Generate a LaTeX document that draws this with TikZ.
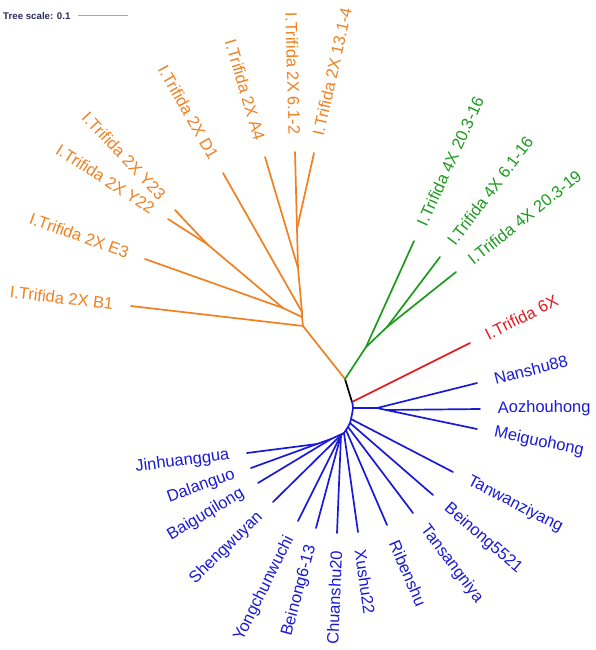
\documentclass[tikz,border=0pt]{standalone}
\usepackage{fontspec}
\setmainfont{Liberation Sans}
\definecolor{dipc}{HTML}{F08020}
\definecolor{tetc}{HTML}{1E9A1E}
\definecolor{hexc}{HTML}{E8191E}
\definecolor{batc}{HTML}{1A1AD6}
\definecolor{scalec}{HTML}{2C2C5E}

\begin{document}
\begin{tikzpicture}[
 x=1pt,y=-1pt,
 branch/.style={line width=1.7pt,line cap=round,line join=round},
 diploid/.style={branch,dipc},
 tetra/.style={branch,tetc},
 hexa/.style={branch,hexc},
 sweet/.style={branch,batc},
 lab/.style={font=\fontsize{16.5}{18}\selectfont,inner xsep=17pt,inner ysep=0pt,pos=1,sloped},
 leafR/.style={lab,anchor=west},
 leafL/.style={lab,anchor=east}]
\useasboundingbox (0,0) rectangle (596,650);
% scale bar
\node[anchor=west,inner sep=0pt,text=scalec,font=\bfseries\fontsize{9.7}{11}\selectfont] (scale) at (3,16) {Tree scale: 0.1};
\coordinate (sbl) at (78,16);
\coordinate (sbr) at (128,16);
\draw[line width=1pt,black!35] (sbl) -- (sbr);
% centre
\coordinate (root) at (345,379);
\coordinate (split) at (352,402);
\draw[branch,black] (root) -- (split);
% 2X clade
\coordinate (oa) at (303,326);
\coordinate (ob) at (302,317);
\coordinate (oc) at (283,308);
\coordinate (oy) at (207,244);
\coordinate (od) at (302,312);
\coordinate (oe) at (298,268);
\coordinate (of) at (297,229);
\coordinate (b1) at (131,306);
\coordinate (e3) at (145,259);
\coordinate (y22) at (168,219);
\coordinate (y23) at (175,210);
\coordinate (d1) at (223,173);
\coordinate (a4) at (265,157);
\coordinate (s612) at (295,152);
\coordinate (s1314) at (314,153);
\draw[diploid] (root) -- (oa) -- (ob) -- (od) -- (oe) -- (of);
\draw[diploid] (ob) -- (oc) -- (oy);
\draw[diploid] (oa) -- (b1) node[leafL] (tb1) {I.Trifida 2X B1};
\draw[diploid] (oc) -- (e3) node[leafL] (te3) {I.Trifida 2X E3};
\draw[diploid] (oy) -- (y22) node[leafL] (ty22) {I.Trifida 2X Y22};
\draw[diploid] (oy) -- (y23) node[leafL] (ty23) {I.Trifida 2X Y23};
\draw[diploid] (od) -- (d1) node[leafL] (td1) {I.Trifida 2X D1};
\draw[diploid] (oe) -- (a4) node[leafL] (ta4) {I.Trifida 2X A4};
\draw[diploid] (of) -- (s612) node[leafL] (ts612) {I.Trifida 2X 6.1-2};
\draw[diploid] (of) -- (s1314) node[leafR] (ts1314) {I.Trifida 2X 13.1-4};
% 4X clade
\coordinate (ga) at (366,347);
\coordinate (gb) at (387,327);
\coordinate (g16) at (414,241);
\coordinate (g616) at (440,257);
\coordinate (g19) at (456,272);
\draw[tetra] (root) -- (ga) -- (gb);
\draw[tetra] (ga) -- (g16) node[leafR] (tg16) {I.Trifida 4X 20.3-16};
\draw[tetra] (gb) -- (g616) node[leafR] (tg616) {I.Trifida 4X 6.1-16};
\draw[tetra] (gb) -- (g19) node[leafR] (tg19) {I.Trifida 4X 20.3-19};
% 6X
\coordinate (h6) at (470,343);
\draw[hexa] (split) -- (h6) node[leafR] (th6) {I.Trifida 6X};
% cultivars
\coordinate (bz) at (353,408);
\coordinate (bt) at (351,419);
\coordinate (bn) at (350,423);
\coordinate (bs) at (348,427);
\coordinate (br) at (346,430);
\coordinate (bx) at (344,433);
\coordinate (bp) at (341,435);
\draw[sweet] plot[smooth,tension=0.6] coordinates {(split) (bz) (bt) (bn) (bs) (br) (bx) (bp)};
\coordinate (n1) at (377,408);
\coordinate (n2) at (386,410);
\coordinate (p1) at (331,439);
\coordinate (jd) at (317,444);
\coordinate (nanshu) at (477,383);
\coordinate (aozhou) at (480,409);
\coordinate (meiguo) at (477,429);
\coordinate (tanwan) at (453,472);
\coordinate (bn5521) at (433,495);
\coordinate (tansang) at (413,513);
\coordinate (riben) at (387,525);
\coordinate (xushu) at (358,532);
\coordinate (chuan) at (337,533);
\coordinate (bn613) at (316,528);
\coordinate (yongchun) at (298,521);
\coordinate (shengwu) at (273,502);
\coordinate (baigu) at (258,483);
\coordinate (jinhuang) at (247,453);
\coordinate (dalan) at (251,468);
\draw[sweet] (bz) -- (n1) -- (n2);
\draw[sweet] (n1) -- (nanshu) node[leafR] (tnanshu) {Nanshu88};
\draw[sweet] (n2) -- (aozhou) node[leafR] (taozhou) {Aozhouhong};
\draw[sweet] (n2) -- (meiguo) node[leafR] (tmeiguo) {Meiguohong};
\draw[sweet] (bt) -- (tanwan) node[leafR] (ttanwan) {Tanwanziyang};
\draw[sweet] (bn) -- (bn5521) node[leafR] (tbn5521) {Beinong5521};
\draw[sweet] (bs) -- (tansang) node[leafR] (ttansang) {Tansangniya};
\draw[sweet] (br) -- (riben) node[leafR] (triben) {Ribenshu};
\draw[sweet] (bx) -- (xushu) node[leafR] (txushu) {Xushu22};
\draw[sweet] (bp) -- (chuan) node[leafL] (tchuan) {Chuanshu20};
\draw[sweet] (bp) -- (bn613) node[leafL] (tbn613) {Beinong6-13};
\draw[sweet] (bp) -- (yongchun) node[leafL] (tyongchun) {Yongchunwuchi};
\draw[sweet] (bp) -- (shengwu) node[leafL] (tshengwu) {Shengwuyan};
\draw[sweet] (bx) -- (p1) -- (jd);
\draw[sweet] (p1) -- (baigu) node[leafL] (tbaigu) {Baiguqilong};
\draw[sweet] (jd) -- (jinhuang) node[leafL] (tjinhuang) {Jinhuanggua};
\draw[sweet] (jd) -- (dalan) node[leafL] (tdalan) {Dalanguo};
\end{tikzpicture}
\end{document}
